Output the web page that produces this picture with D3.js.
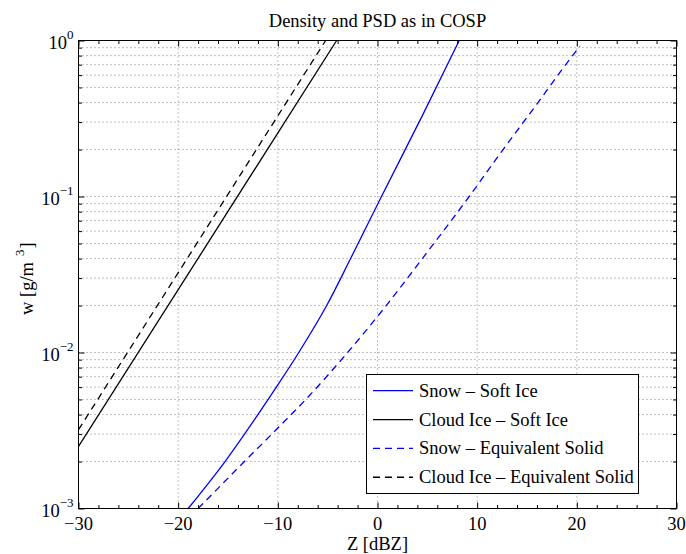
<!DOCTYPE html>
<html>
<head>
<meta charset="utf-8">
<script src="https://cdn.jsdelivr.net/npm/d3@7"></script>
<style>
body { margin: 0; background: #fff; }
text { font-family: "Liberation Serif", "Times New Roman", serif; fill: #000; }
</style>
</head>
<body>
<script>
// values
var zTicks = [-30, -20, -10, 0, 10, 20, 30]
var zMinor = [-28, -26, -24, -22, -18, -16, -14, -12, -8, -6, -4, -2, 2, 4, 6, 8, 12, 14, 16, 18, 22, 24, 26, 28]
var wTicks = [1e-3, 1e-2, 1e-1, 1]
var wExp = ['\u22123', '\u22122', '\u22121', '0']
var wMinor = []
;[1e-3, 1e-2, 1e-1].forEach(function (d) {
  for (var k = 2; k <= 9; k++) wMinor.push(k * d)
})

var seriesNames = ['Snow \u2013 Soft Ice', 'Cloud Ice \u2013 Soft Ice', 'Snow \u2013 Equivalent Solid', 'Cloud Ice \u2013 Equivalent Solid']

var snowSoftZ = [-19.0, -15.3, -12.0, -10.0, -7.9, -5.1, -2.7, 0.4, 4.5, 8.2]
var snowSoftW = [0.001, 0.002, 0.004, 0.0062, 0.01, 0.02, 0.04, 0.1, 0.33, 1.0]

var iceSoftZ = [-30, -4.1]
var iceSoftW = [0.0025, 1.0]

var snowSolidZ = [-18.0, -13.35, -10.6, -7.2, -3.0, 0.6, 4.5, 9.2, 12.6, 16.1, 18.1, 20.3]
var snowSolidW = [0.001, 0.002, 0.003, 0.005, 0.01, 0.019, 0.04, 0.1, 0.2, 0.4, 0.6, 0.92]

var iceSolidZ = [-30, -5.2]
var iceSolidW = [0.0032, 1.0]

var seriesZ = [snowSoftZ, iceSoftZ, snowSolidZ, iceSolidZ]
var seriesW = [snowSoftW, iceSoftW, snowSolidW, iceSolidW]

// look of each series
var colors = ['#0000ff', '#000000', '#0000ff', '#000000']
var dashes = [null, null, '7,5', '7,5']

var width = 686, height = 554
// note: "top" is taken by window.top, so use other names
var pLeft = 78.5, pRight = 676.5, pTop = 40.5, pBottom = 508.5
var fontSize = 18.5

var svg = d3.select('body').append('svg')
  .attr('width', width)
  .attr('height', height)

var x = d3.scaleLinear().domain([-30, 30]).range([pLeft, pRight])
var y = d3.scaleLog().domain([1e-3, 1]).range([pBottom, pTop])

// dotted grid
var grid = svg.append('g').attr('class', 'grid')
grid.selectAll('line.gx')
  .data(zTicks.slice(1, -1))
  .enter().append('line')
    .attr('class', 'gx')
    .attr('x1', d => x(d)).attr('x2', d => x(d))
    .attr('y1', pTop).attr('y2', pBottom)
grid.selectAll('line.gy')
  .data(wMinor.concat(wTicks.slice(1, -1)))
  .enter().append('line')
    .attr('class', 'gy')
    .attr('x1', pLeft).attr('x2', pRight)
    .attr('y1', d => y(d)).attr('y2', d => y(d))
grid.selectAll('line')
  .attr('stroke', '#808080')
  .attr('stroke-width', 1)
  .attr('stroke-dasharray', '1,3')

// curves
svg.append('clipPath').attr('id', 'plot')
  .append('rect')
    .attr('x', pLeft).attr('y', pTop)
    .attr('width', pRight - pLeft).attr('height', pBottom - pTop)

var line = d3.line()
  .x(d => x(d[0]))
  .y(d => y(d[1]))
  .curve(d3.curveMonotoneX)

seriesZ.forEach(function (zs, i) {
  var pts = zs.map((z, j) => [z, seriesW[i][j]])
  svg.append('path')
    .datum(pts)
    .attr('clip-path', 'url(#plot)')
    .attr('fill', 'none')
    .attr('stroke', colors[i])
    .attr('stroke-width', 1.3)
    .attr('stroke-dasharray', dashes[i])
    .attr('d', line)
})

// axes: ticks point inward on all four sides
function ticks(axis, vals, len) {
  return axis.tickValues(vals).tickSizeInner(-len).tickSizeOuter(0).tickFormat('')
}
var axes = [
  [d3.axisBottom, x, zTicks, zMinor, 'translate(0,' + pBottom + ')'],
  [d3.axisTop, x, zTicks, zMinor, 'translate(0,' + pTop + ')'],
  [d3.axisLeft, y, wTicks, wMinor, 'translate(' + pLeft + ',0)'],
  [d3.axisRight, y, wTicks, wMinor, 'translate(' + pRight + ',0)']
]
axes.forEach(function (a) {
  svg.append('g').attr('transform', a[4]).call(ticks(a[0](a[1]), a[3], 3.5))
  svg.append('g').attr('transform', a[4]).call(ticks(a[0](a[1]), a[2], 6))
})
svg.selectAll('.domain').remove()
svg.selectAll('.tick line').attr('stroke', '#000')

svg.append('rect')
  .attr('x', pLeft).attr('y', pTop)
  .attr('width', pRight - pLeft).attr('height', pBottom - pTop)
  .attr('fill', 'none')
  .attr('stroke', '#000')
  .attr('stroke-width', 1)

// tick labels
svg.selectAll('text.zt')
  .data(zTicks)
  .enter().append('text')
    .attr('class', 'zt')
    .attr('x', d => x(d))
    .attr('y', 530)
    .attr('text-anchor', 'middle')
    .attr('font-size', fontSize)
    .text(d => d3.format('d')(d))

var wl = svg.selectAll('text.wt')
  .data(wTicks)
  .enter().append('text')
    .attr('class', 'wt')
    .attr('x', pLeft - 5)
    .attr('y', d => y(d) + 8.5)
    .attr('text-anchor', 'end')
    .attr('font-size', fontSize)
wl.append('tspan').text('10')
wl.append('tspan')
  .attr('dy', -10)
  .attr('font-size', 13)
  .text((d, i) => wExp[i])

// titles
svg.append('text')
  .attr('x', (pLeft + pRight) / 2)
  .attr('y', 27)
  .attr('text-anchor', 'middle')
  .attr('font-size', fontSize)
  .text('Density and PSD as in COSP')

svg.append('text')
  .attr('x', (pLeft + pRight) / 2)
  .attr('y', 550)
  .attr('text-anchor', 'middle')
  .attr('font-size', fontSize)
  .text('Z [dBZ]')

var yl = svg.append('text')
  .attr('transform', 'translate(33,315) rotate(-90)')
  .attr('font-size', fontSize)
yl.append('tspan').text('w [g/m')
yl.append('tspan').attr('dx', 6).attr('dy', -9).attr('font-size', 13).text('3')
yl.append('tspan').attr('dx', 1).attr('dy', 9).text(']')

// legend
var legend = svg.append('g')
legend.append('rect')
  .attr('x', 366.5).attr('y', 374.5)
  .attr('width', 272).attr('height', 119)
  .attr('fill', '#fff')
  .attr('stroke', '#000')
  .attr('stroke-width', 1)

var row = legend.selectAll('g.row')
  .data(seriesNames)
  .enter().append('g')
    .attr('class', 'row')
    .attr('transform', (d, i) => 'translate(0,' + (390.7 + i * 28.85) + ')')
row.append('line')
  .attr('x1', 373).attr('x2', 413)
  .attr('stroke', (d, i) => colors[i])
  .attr('stroke-width', 1.3)
  .attr('stroke-dasharray', (d, i) => dashes[i])
row.append('text')
  .attr('x', 419)
  .attr('y', 6)
  .attr('font-size', fontSize)
  .text(d => d)
</script>
</body>
</html>
